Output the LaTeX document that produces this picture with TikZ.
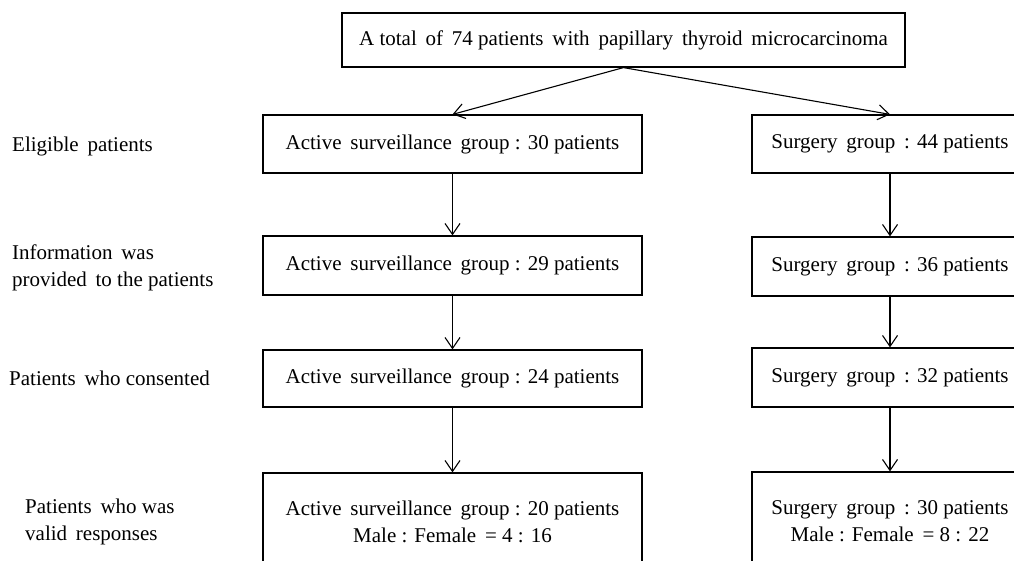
\documentclass[tikz,border=0pt]{standalone}
\usepackage{fontspec}
\setmainfont{Liberation Serif}
\usetikzlibrary{arrows.meta}
\newcommand{\gap}{\hspace{0.42em}}
\tikzset{
  every node/.style={font=\fontsize{21}{27}\selectfont},
  box/.style={draw, line width=1.2pt, inner sep=0pt, align=center},
  lbox/.style={box, minimum width=379pt},
  rbox/.style={box, minimum width=276pt},
  lab/.style={anchor=base west, align=left, inner sep=0pt},
  arr/.style={line width=1.1pt, -{Straight Barb[length=11pt,width=15pt,line width=1.1pt]}}
}
\begin{document}
\begin{tikzpicture}[x=1pt,y=-1pt]
\useasboundingbox (0,0) rectangle (1014,561);
\clip (0,0) rectangle (1014,561);
\node[box, minimum width=563pt, minimum height=54pt] (top) at (623.5,40)
  {A total\gap of\gap 74 patients\gap with\gap papillary\gap thyroid\gap microcarcinoma};
\node[lbox, minimum height=58pt] (L1) at (452.5,144) {Active\gap surveillance\gap group : 30 patients};
\node[lbox, minimum height=59pt] (L2) at (452.5,265.5) {Active\gap surveillance\gap group : 29 patients};
\node[lbox, minimum height=57pt] (L3) at (452.5,378.5) {Active\gap surveillance\gap group : 24 patients};
\node[lbox, minimum height=97pt] (L4) at (452.5,521.5) {Active\gap surveillance\gap group : 20 patients\\Male : Female\gap = 4 : 16};
\node[rbox, minimum height=58pt] (R1) at (890,144) {Surgery\gap group\gap : 44 patients};
\node[rbox, minimum height=59pt] (R2) at (890,266.5) {Surgery\gap group\gap : 36 patients};
\node[rbox, minimum height=59pt] (R3) at (890,377.5) {Surgery\gap group\gap : 32 patients};
\node[rbox, minimum height=98pt] (R4) at (890,521) {Surgery\gap group\gap : 30 patients\\Male : Female\gap = 8 : 22};
\node[lab] (t1) at (12,152) {Eligible\gap patients};
\node[lab] (t2) at (12,287) {Information\gap was\\provided\gap to the patients};
\node[lab] (t3) at (9,385) {Patients\gap who consented};
\node[lab] (t4) at (25,540) {Patients\gap who was\\valid\gap responses};
\draw[arr] (top.south) -- (L1.north);
\draw[arr] (top.south) -- (R1.north);
\draw[arr] (L1.south) -- (L2.north);
\draw[arr] (L2.south) -- (L3.north);
\draw[arr] (L3.south) -- (L4.north);
\draw[arr] (R1.south) -- (R2.north);
\draw[arr] (R2.south) -- (R3.north);
\draw[arr] (R3.south) -- (R4.north);
\end{tikzpicture}
\end{document}
